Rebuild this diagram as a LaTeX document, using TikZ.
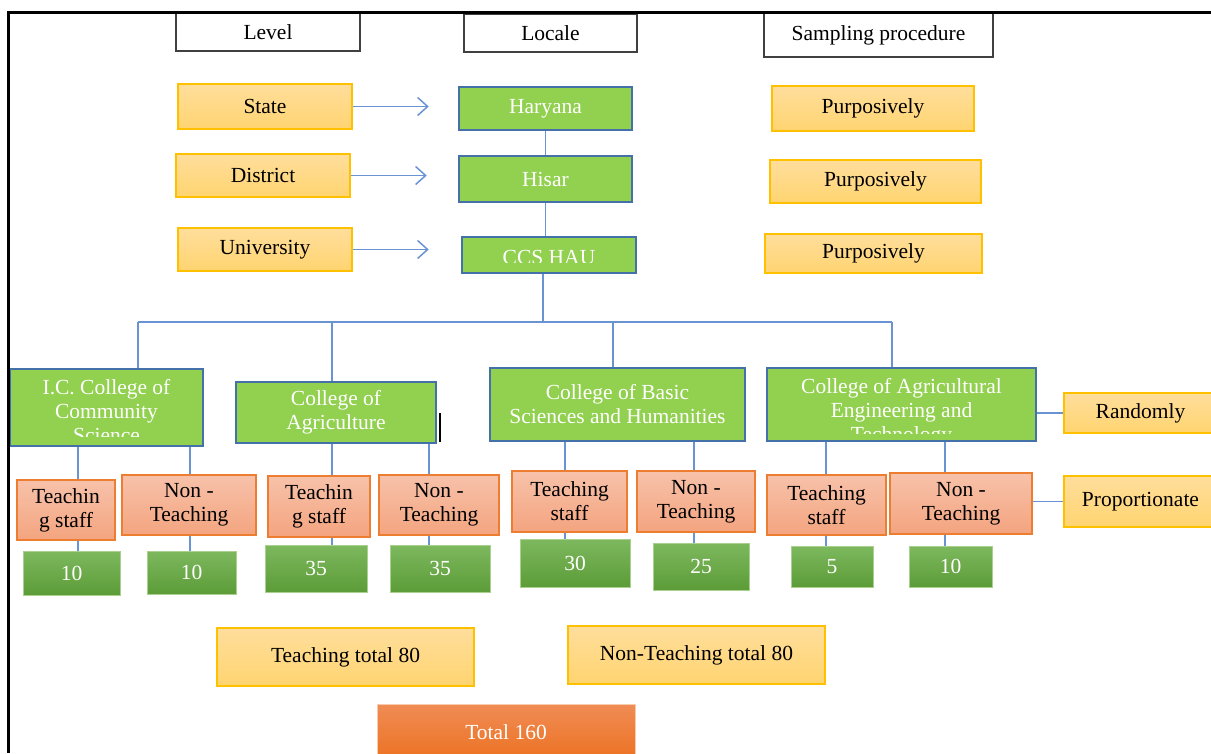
\documentclass[tikz,border=0pt]{standalone}
\usepackage{fontspec}
\setmainfont{Liberation Serif}
\usetikzlibrary{arrows.meta}
\definecolor{grn}{HTML}{92D050}
\definecolor{gedge}{HTML}{4472A8}
\definecolor{gold}{HTML}{FFC000}
\definecolor{ytop}{HTML}{FFDE9C}
\definecolor{ybot}{HTML}{FFD470}
\definecolor{sedge}{HTML}{ED7D31}
\definecolor{stop}{HTML}{F7C2AA}
\definecolor{sbot}{HTML}{F4A47F}
\definecolor{nedge}{HTML}{A9D08E}
\definecolor{ntop}{HTML}{7DB85E}
\definecolor{nbot}{HTML}{5C9C38}
\definecolor{otop}{HTML}{F08C55}
\definecolor{obot}{HTML}{EC7222}
\definecolor{oedge}{HTML}{F8CBAD}
\definecolor{lnk}{HTML}{6A93D4}
\definecolor{hdline}{HTML}{404040}
\begin{document}
\begin{tikzpicture}[x=1pt,y=-1pt,
  font=\fontsize{21.5}{24}\selectfont,
  every node/.style={inner sep=0pt, align=center},
  sz/.style 2 args={minimum width=#1, minimum height=#2},
  head/.style={draw=hdline, line width=1.5pt, fill=white},
  ybox/.style={draw=gold, line width=1.5pt, top color=ytop, bottom color=ybot},
  gbox/.style={draw=gedge, line width=1.5pt, fill=grn, text=white},
  sbox/.style={draw=sedge, line width=1.5pt, top color=stop, bottom color=sbot},
  nbox/.style={draw=nedge, line width=1pt, top color=ntop, bottom color=nbot, text=white},
  link/.style={draw=lnk, line width=1.5pt},
  arr/.style={link, -{Straight Barb[length=10pt,width=18pt]}},
  cut/.style n args={3}{path picture={
    \clip (path picture bounding box.north west) rectangle ([yshift=#2]path picture bounding box.south east);
    \node[text=white] at ([yshift=#3]path picture bounding box.center) {#1};}}]
\useasboundingbox (0,0) rectangle (1211,753);

% headings
\node[head, sz={184}{38}] (level) at (268,32) {Level};
\node[head, sz={173}{38}] (locale) at (550.5,33) {Locale};
\node[head, sz={229}{44}] (samp) at (878.5,35) {Sampling procedure};

% level and locale
\node[ybox, sz={174}{45}] (state) at (265,106.5) {State};
\node[ybox, sz={174}{43}] (dist) at (263,175.5) {District};
\node[ybox, sz={174}{43}] (univ) at (265,249.5) {University};
\node[gbox, sz={173}{43}] (hary) at (545.5,108.5) {Haryana};
\node[gbox, sz={173}{46}] (hisar) at (545.5,179) {Hisar};
\node[gbox, sz={174}{36}, cut={CCS HAU}{11pt}{-2pt}] (ccs) at (549,255) {};
\node[ybox, sz={202}{45}] (p1) at (873,108.5) {Purposively};
\node[ybox, sz={211}{43}] (p2) at (875.5,181.5) {Purposively};
\node[ybox, sz={217}{39}] (p3) at (873.5,253.5) {Purposively};

\draw[arr] (state) -- ([xshift=76pt]state.east);
\draw[arr] (dist) -- ([xshift=76pt]dist.east);
\draw[arr] (univ) -- ([xshift=76pt]univ.east);
\draw[link] (hary) -- (hisar);
\draw[link] (hisar.south) -- (hisar.south |- ccs.north);

% colleges
\node[gbox, sz={193}{77}, cut={I.C. College of\\Community\\Science}{10pt}{-3.5pt}] (ic) at (106.5,407.5) {};
\node[gbox, sz={200}{61}] (agc) at (336,412.5) {College of\\Agriculture};
\node[gbox, sz={255}{73}] (bas) at (617.5,404.5) {College of Basic\\Sciences and Humanities};
\node[gbox, sz={269}{73}, cut={College of Agricultural\\Engineering and\\Technology}{8pt}{-7.5pt}] (eng) at (901.5,404.5) {};
\draw[line width=1.5pt] (440,413) -- (440,442);

\coordinate (bus) at (543,322);
\draw[link] (bus |- ccs.south) -- (bus);
\draw[link] (138,322) -- (892,322);
\foreach \col/\x in {ic/138, agc/332, bas/613, eng/892}{
  \coordinate (drop) at (\x,322);
  \draw[link] (drop) -- (drop |- \col.north);
}

% staff
\node[sbox, sz={98}{60}] (ta) at (66,510) {Teachin\\g staff};
\node[sbox, sz={134}{60}] (ua) at (189,505) {Non -\\Teaching};
\node[sbox, sz={102}{61}] (tb) at (319,506.5) {Teachin\\g staff};
\node[sbox, sz={120}{60}] (ub) at (439,505) {Non -\\Teaching};
\node[sbox, sz={115}{61}] (tc) at (569.5,501.5) {Teaching\\staff};
\node[sbox, sz={118}{61}] (uc) at (696,501.5) {Non -\\Teaching};
\node[sbox, sz={119}{60}] (td) at (826.5,505) {Teaching\\staff};
\node[sbox, sz={142}{61}] (ud) at (961,503.5) {Non -\\Teaching};

% numbers
\node[nbox, sz={97}{44}] (na) at (71.5,573) {10};
\node[nbox, sz={89}{43}] (ma) at (191.5,572.5) {10};
\node[nbox, sz={102}{47}] (nb) at (316,568.5) {35};
\node[nbox, sz={100}{47}] (mb) at (440,568.5) {35};
\node[nbox, sz={110}{48}] (nc) at (575,563) {30};
\node[nbox, sz={96}{47}] (mc) at (701,566.5) {25};
\node[nbox, sz={82}{41}] (nd) at (832,566.5) {5};
\node[nbox, sz={83}{41}] (md) at (950.5,566.5) {10};

\foreach \col/\st/\num/\x in {ic/ta/na/78, ic/ua/ma/190, agc/tb/nb/332, agc/ub/mb/429,
    bas/tc/nc/565, bas/uc/mc/694, eng/td/nd/826, eng/ud/md/945}{
  \coordinate (lx) at (\x,0);
  \draw[link] (\col.south -| lx) -- (\st.north -| lx);
  \draw[link] (\st.south -| lx) -- (\num.north -| lx);
}

% sampling at college level
\node[ybox, sz={153}{40}] (rand) at (1140.5,413) {Randomly};
\node[ybox, sz={153}{51}] (prop) at (1140.5,501.5) {Proportionate};
\draw[link] (eng.east |- rand.west) -- (rand.west);
\draw[link] (ud.east |- prop.west) -- (prop.west);

% totals
\node[ybox, sz={257}{58}] (tt) at (345.5,657) {Teaching total 80};
\node[ybox, sz={257}{58}] (nt) at (696.5,655) {Non-Teaching total 80};
\node[nbox, draw=oedge, top color=otop, bottom color=obot, sz={258}{56}] (tot) at (506,732) {Total 160};

\draw[line width=3pt] (8.5,753) -- (8.5,12) -- (1211,12);
\end{tikzpicture}
\end{document}
